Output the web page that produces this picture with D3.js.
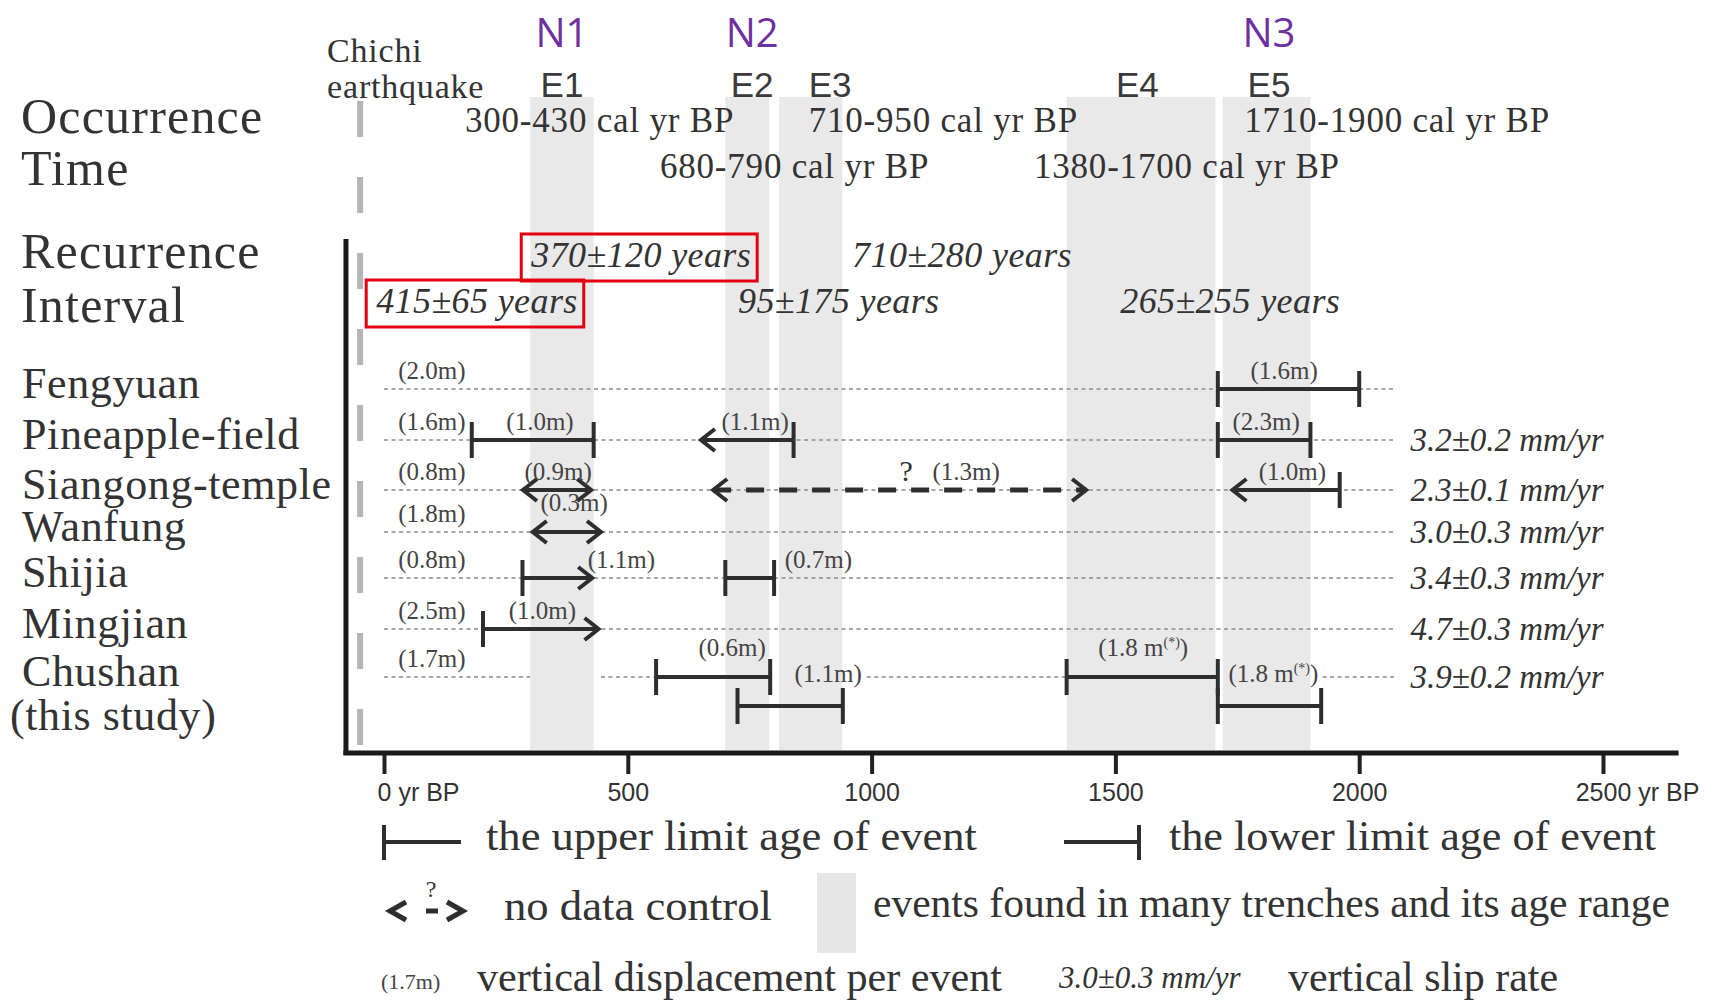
<!DOCTYPE html>
<html>
<head>
<meta charset="utf-8">
<script src="https://cdnjs.cloudflare.com/ajax/libs/d3/7.8.5/d3.min.js"></script>
<style>
body { margin: 0; background: #fff; }
svg { display: block; }
.serif { font-family: "Liberation Serif", "Times New Roman", serif; fill: #333; }
.sans { font-family: "Liberation Sans", Arial, sans-serif; fill: #3a3a3a; }
.dotted { stroke: #8c8c8c; stroke-width: 1.6; stroke-dasharray: 4,3.5; fill: none; }
.mark { stroke: #2e2e2e; stroke-width: 4; fill: none; }
.tick line { stroke: #222; stroke-width: 4; }
.tick text { font-family: "Liberation Sans", Arial, sans-serif; font-size: 25px; fill: #333; }
</style>
</head>
<body>
<script>
(function(){

//sites, top to bottom
var sites = ["Fengyuan", "Pineapple-field", "Siangong-temple", "Wanfung", "Shijia", "Mingjian", "Chushan"];
var siteNames = ["Fengyuan", "Pineapple-field", "Siangong-temple", "Wanfung", "Shijia", "Mingjian", "Chushan", "(this study)"];
var firstDisp = ["(2.0m)", "(1.6m)", "(0.8m)", "(1.8m)", "(0.8m)", "(2.5m)", "(1.7m)"];
var slipRates = ["", "3.2±0.2 mm/yr", "2.3±0.1 mm/yr", "3.0±0.3 mm/yr", "3.4±0.3 mm/yr", "4.7±0.3 mm/yr", "3.9±0.2 mm/yr"];

//events found in many trenches (yr BP)
var events = ["E1", "E2", "E3", "E4", "E5"];
var eventFrom = [300, 700, 810, 1400, 1720];
var eventTo = [430, 790, 940, 1705, 1900];
var eventLabelAt = [365, 755, 915, 1545, 1815];
var newNames = ["N1", "N2", "N3"];
var newNameAt = [365, 755, 1815];

//occurrence time texts, start age and row
var occurText = ["300-430 cal yr BP", "710-950 cal yr BP", "1710-1900 cal yr BP", "680-790 cal yr BP", "1380-1700 cal yr BP"];
var occurAt = [166, 871, 1764, 566, 1333];
var occurRow = [0, 0, 0, 1, 1];

//recurrence intervals
var recurText = ["370±120 years", "710±280 years", "415±65 years", "95±175 years", "265±255 years"];
var recurAt = [302, 960, -16, 726, 1510];
var recurRow = [0, 0, 1, 1, 1];
var recurBoxed = [true, false, true, false, false];

var chichiAge = -49;
var tickValues = [0, 500, 1000, 1500, 2000, 2500];

//age ranges: site, from, to, left end, right end, tier, dashed
var intervals = [
    ["Fengyuan", 1710, 2000, "bar", "bar", 0, false],
    ["Pineapple-field", 180, 430, "bar", "bar", 0, false],
    ["Pineapple-field", 650, 840, "arrow", "bar", 0, false],
    ["Pineapple-field", 1710, 1900, "bar", "bar", 0, false],
    ["Siangong-temple", 285, 425, "arrow", "arrow", 0, false],
    ["Siangong-temple", 675, 1440, "arrow", "arrow", 0, true],
    ["Siangong-temple", 1740, 1960, "arrow", "bar", 0, false],
    ["Wanfung", 305, 445, "arrow", "arrow", 0, false],
    ["Shijia", 284, 427, "bar", "arrow", 0, false],
    ["Shijia", 700, 800, "bar", "bar", 0, false],
    ["Mingjian", 203, 440, "bar", "arrow", 0, false],
    ["Chushan", 558, 792, "bar", "bar", 0, false],
    ["Chushan", 725, 941, "bar", "bar", 1, false],
    ["Chushan", 1400, 1710, "bar", "bar", 0, false],
    ["Chushan", 1710, 1922, "bar", "bar", 1, false]
];

//displacement per event: site, text, centre age, placement
var dispLabels = [
    ["Fengyuan", "(1.6m)", 1846, "above"],
    ["Pineapple-field", "(1.0m)", 320, "above"],
    ["Pineapple-field", "(1.1m)", 761, "above"],
    ["Pineapple-field", "(2.3m)", 1809, "above"],
    ["Siangong-temple", "(0.9m)", 357, "above"],
    ["Siangong-temple", "(1.3m)", 1194, "above"],
    ["Siangong-temple", "(1.0m)", 1863, "above"],
    ["Wanfung", "(0.3m)", 390, "high"],
    ["Shijia", "(1.1m)", 487, "above"],
    ["Shijia", "(0.7m)", 891, "above"],
    ["Mingjian", "(1.0m)", 325, "above"],
    ["Chushan", "(0.6m)", 714, "high"],
    ["Chushan", "(1.1m)", 911, "on"],
    ["Chushan", "(1.8 m*)", 1557, "high"],
    ["Chushan", "(1.8 m*)", 1824, "on"]
];

//dotted guide lines: site, from, to
var dottedSpans = [
    ["Fengyuan", 0, 2075], ["Pineapple-field", 0, 2075], ["Siangong-temple", 0, 2075],
    ["Wanfung", 0, 2070], ["Shijia", 0, 2075], ["Mingjian", 0, 2075],
    ["Chushan", 0, 300], ["Chushan", 445, 558], ["Chushan", 990, 1400], ["Chushan", 1925, 2075]
];

var width = 1721, height = 1002;
var placeDy = {above: -10, high: -21, on: 5};

var svg = d3.select("body").append("svg")
    .attr("width", width)
    .attr("height", height);

var x = d3.scaleLinear().domain([0, 2500]).range([384, 1603]);
//row lines are not evenly spaced in the figure
var y = d3.scaleOrdinal().domain(sites).range([389, 440, 490, 532, 578, 629, 677]);
var tierGap = 29;

//shaded event bands
svg.selectAll(".band")
    .data(events)
    .enter()
    .append("rect")
    .attr("class", "band")
    .attr("x", function(d, i){ return x(eventFrom[i]); })
    .attr("width", function(d, i){ return x(eventTo[i]) - x(eventFrom[i]); })
    .attr("y", 97)
    .attr("height", 653)
    .style("fill", "#e9e9e9");

//chichi earthquake line
svg.append("line")
    .attr("x1", x(chichiAge)).attr("x2", x(chichiAge))
    .attr("y1", 101).attr("y2", 748)
    .style("stroke", "#b5b5b5")
    .style("stroke-width", 6)
    .style("stroke-dasharray", "36,40");

svg.append("text").attr("class", "serif")
    .attr("x", x(chichiAge) - 33).attr("y", 62)
    .style("font-size", "34px").style("letter-spacing", "0.8px")
    .text("Chichi");
svg.append("text").attr("class", "serif")
    .attr("x", x(chichiAge) - 33).attr("y", 98)
    .style("font-size", "34px").style("letter-spacing", "0.8px")
    .text("earthquake");

//event labels
svg.selectAll(".elabel")
    .data(events)
    .enter()
    .append("text")
    .attr("class", "sans elabel")
    .attr("x", function(d, i){ return x(eventLabelAt[i]); })
    .attr("y", 97)
    .attr("text-anchor", "middle")
    .style("font-size", "35px")
    .text(function(d){ return d; });

svg.selectAll(".nlabel")
    .data(newNames)
    .enter()
    .append("text")
    .attr("x", function(d, i){ return x(newNameAt[i]); })
    .attr("y", 47)
    .attr("text-anchor", "middle")
    .style("font-family", "'Open Sans', 'Noto Sans', sans-serif")
    .style("font-size", "40px")
    .style("fill", "#7030a0")
    .text(function(d){ return d; });

//left header labels
var headers = [["Occurrence", 133], ["Time", 185], ["Recurrence", 268], ["Interval", 322]];
svg.selectAll(".header")
    .data(headers)
    .enter()
    .append("text")
    .attr("class", "serif header")
    .attr("x", 21)
    .attr("y", function(d){ return d[1]; })
    .style("font-size", "50px")
    .style("letter-spacing", "1.2px")
    .text(function(d){ return d[0]; });

//occurrence times
svg.selectAll(".occur")
    .data(occurText)
    .enter()
    .append("text")
    .attr("class", "serif occur")
    .attr("x", function(d, i){ return x(occurAt[i]); })
    .attr("y", function(d, i){ return 132 + occurRow[i] * 46; })
    .style("font-size", "35px")
    .style("letter-spacing", "0.8px")
    .text(function(d){ return d; });

//recurrence intervals
var recur = svg.selectAll(".recur")
    .data(recurText)
    .enter()
    .append("text")
    .attr("class", "serif recur")
    .attr("x", function(d, i){ return x(recurAt[i]); })
    .attr("y", function(d, i){ return 267 + recurRow[i] * 46; })
    .style("font-size", "36px")
    .style("font-style", "italic")
    .style("letter-spacing", "0.4px")
    .text(function(d){ return d; });

recur.each(function(d, i){
    if (!recurBoxed[i]) return;
    var w = this.getComputedTextLength();
    var tx = x(recurAt[i]), ty = 267 + recurRow[i] * 46;
    svg.append("rect")
        .attr("x", tx - 10).attr("y", ty - 33)
        .attr("width", w + 16).attr("height", 47)
        .style("fill", "none")
        .style("stroke", "#e3000f")
        .style("stroke-width", 3);
});

//site names, the last line continues Chushan
svg.selectAll(".site")
    .data(siteNames)
    .enter()
    .append("text")
    .attr("class", "serif site")
    .attr("x", function(d, i){ return i == 7 ? 10 : 22; })
    .attr("y", function(d, i){ return i == 7 ? y(sites[6]) + 53 : y(sites[i]) + 9; })
    .style("font-size", "44px")
    .style("letter-spacing", "0.6px")
    .text(function(d){ return d; });

//dotted guide lines
svg.selectAll(".dotted")
    .data(dottedSpans)
    .enter()
    .append("line")
    .attr("class", "dotted")
    .attr("x1", function(d){ return x(d[1]); })
    .attr("x2", function(d){ return x(d[2]); })
    .attr("y1", function(d){ return y(d[0]); })
    .attr("y2", function(d){ return y(d[0]); });

//first displacement label on each line
svg.selectAll(".first")
    .data(firstDisp)
    .enter()
    .append("text")
    .attr("class", "serif first")
    .attr("x", x(29))
    .attr("y", function(d, i){ return y(sites[i]) - 10; })
    .style("font-size", "25px")
    .style("fill", "#444")
    .text(function(d){ return d; });

//slip rates
svg.selectAll(".slip")
    .data(slipRates)
    .enter()
    .append("text")
    .attr("class", "serif slip")
    .attr("x", x(2105))
    .attr("y", function(d, i){ return y(sites[i]) + 11; })
    .style("font-size", "33px")
    .style("font-style", "italic")
    .text(function(d){ return d; });

//interval marks
function endPath(px, py, kind, dir){
    if (kind == "bar") return "M" + px + "," + (py - 18) + "L" + px + "," + (py + 18);
    return "M" + (px - dir * 14) + "," + (py - 11) + "L" + px + "," + py + "L" + (px - dir * 14) + "," + (py + 11);
}

var marks = svg.selectAll(".markg")
    .data(intervals)
    .enter()
    .append("g")
    .attr("class", "markg");

marks.append("line")
    .attr("class", "mark")
    .attr("x1", function(d){ return x(d[1]); })
    .attr("x2", function(d){ return x(d[2]); })
    .attr("y1", function(d){ return y(d[0]) + d[5] * tierGap; })
    .attr("y2", function(d){ return y(d[0]) + d[5] * tierGap; })
    .style("stroke-width", function(d){ return d[6] ? 5 : 4; })
    .style("stroke-dasharray", function(d){ return d[6] ? "18,15" : null; });

marks.append("path")
    .attr("class", "mark")
    .attr("d", function(d){ return endPath(x(d[1]), y(d[0]) + d[5] * tierGap, d[3], -1); });

marks.append("path")
    .attr("class", "mark")
    .attr("d", function(d){ return endPath(x(d[2]), y(d[0]) + d[5] * tierGap, d[4], 1); });

//displacement labels
var disp = svg.selectAll(".disp")
    .data(dispLabels)
    .enter()
    .append("text")
    .attr("class", "serif disp")
    .attr("x", function(d){ return x(d[2]); })
    .attr("y", function(d){ return y(d[0]) + placeDy[d[3]]; })
    .attr("text-anchor", "middle")
    .style("font-size", "25px")
    .style("fill", "#444");

disp.each(function(d){
    var t = d3.select(this);
    if (d[1].indexOf("*") > 0){
        t.append("tspan").text("(1.8 m");
        t.append("tspan").attr("dy", -9).style("font-size", "14px").text("(*)");
        t.append("tspan").attr("dy", 9).text(")");
    } else {
        t.text(d[1]);
    }
});

//question mark for the no-data range
svg.append("text").attr("class", "serif")
    .attr("x", x(1071)).attr("y", 481)
    .attr("text-anchor", "middle")
    .style("font-size", "30px")
    .text("?");

//frame and axis
svg.append("line")
    .attr("x1", x(-78)).attr("x2", x(-78))
    .attr("y1", 239).attr("y2", 755)
    .style("stroke", "#1a1a1a").style("stroke-width", 5);

var axis = svg.append("g")
    .attr("transform", "translate(0,753)")
    .call(d3.axisBottom(x).tickValues(tickValues).tickSize(21).tickPadding(9).tickFormat(d3.format("d")));
axis.select(".domain").remove();

svg.append("line")
    .attr("x1", x(-78) - 2.5).attr("x2", x(2655))
    .attr("y1", 753).attr("y2", 753)
    .style("stroke", "#1a1a1a").style("stroke-width", 5);

//first and last tick labels carry the unit, number stays centred
axis.selectAll(".tick text").each(function(d){
    if (d !== 0 && d !== 2500) return;
    var t = d3.select(this);
    var w = this.getComputedTextLength();
    t.attr("text-anchor", "start").attr("x", -w / 2);
    t.append("tspan").text(" yr BP");
});

//legend
var lg = svg.append("g").attr("class", "legend");
var legFont = "43px";

function legText(tx, ty, str, len){
    return lg.append("text").attr("class", "serif")
        .attr("x", tx).attr("y", ty)
        .attr("textLength", len)
        .attr("lengthAdjust", "spacingAndGlyphs")
        .style("font-size", legFont)
        .text(str);
}

lg.append("path").attr("class", "mark")
    .attr("d", "M384,825L384,860M384,842L461,842");
legText(486, 850, "the upper limit age of event", 491);

lg.append("path").attr("class", "mark")
    .attr("d", "M1064,842L1139,842M1139,825L1139,860");
legText(1169, 850, "the lower limit age of event", 487);

lg.append("path").attr("class", "mark")
    .style("stroke-width", 5)
    .attr("d", "M406,902L390,911L406,920M426,911L438,911M447,902L463,911L447,920");
lg.append("text").attr("class", "serif").attr("x", 431).attr("y", 897)
    .attr("text-anchor", "middle").style("font-size", "24px").text("?");
legText(504, 920, "no data control", 268);

lg.append("rect").attr("x", 817).attr("y", 873).attr("width", 39).attr("height", 80)
    .style("fill", "#e6e6e6");
legText(873, 917, "events found in many trenches and its age range", 797);

lg.append("text").attr("class", "serif").attr("x", 381).attr("y", 989)
    .style("font-size", "22px").style("fill", "#444").text("(1.7m)");
legText(477, 991, "vertical displacement per event", 525);
lg.append("text").attr("class", "serif").attr("x", 1059).attr("y", 988)
    .style("font-size", "31px").style("font-style", "italic").text("3.0±0.3 mm/yr");
legText(1288, 991, "vertical slip rate", 270);

})();
</script>
</body>
</html>
